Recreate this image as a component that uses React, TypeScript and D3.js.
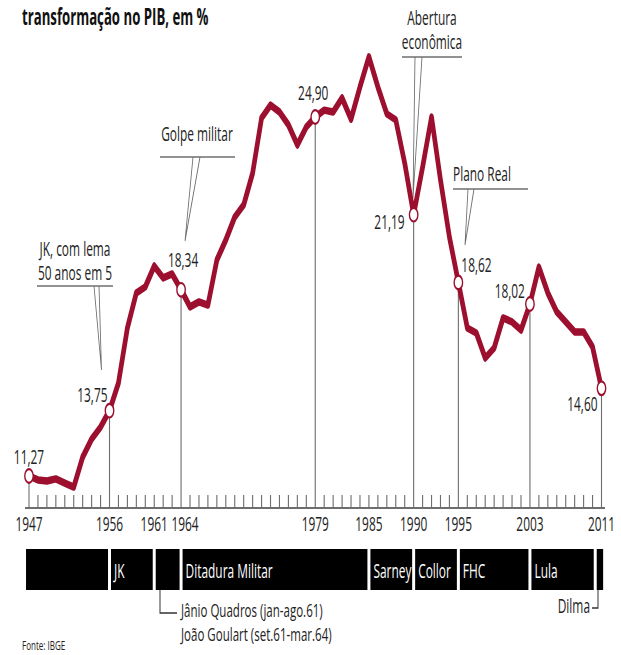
import React from 'react';
import * as d3 from 'd3';

// ---------------- data ----------------
const years = d3.range(1947, 2012);
const shareValues = [
  11.27, 11.12, 11.08, 11.16, 11.0, 10.85, 11.99, 12.67, 13.13, 13.75,
  14.8, 16.89, 18.22, 18.45, 19.24, 18.79, 18.94, 18.34, 17.69, 17.88,
  17.76, 19.47, 20.23, 21.1, 21.56, 22.77, 24.86, 25.35, 25.09, 24.6,
  23.84, 24.52, 24.9, 25.16, 25.09, 25.62, 24.82, 26.04, 27.18, 26.04,
  25.02, 24.79, 23.15, 21.19, 23.0, 24.9, 22.51, 20.34, 18.62, 16.89,
  16.7, 15.75, 16.13, 17.27, 17.12, 16.81, 17.8, 19.2, 18.22, 17.5,
  17.12, 16.74, 16.74, 16.17, 14.6,
];
const markedYears = [1947, 1956, 1964, 1979, 1990, 1995, 2003, 2011];
const markedLabels = ['11,27', '13,75', '18,34', '24,90', '21,19', '18,62', '18,02', '14,60'];
const tickLabelYears = [1947, 1956, 1961, 1964, 1979, 1985, 1990, 1995, 2003, 2011];

const periodNames = ['', 'JK', '', 'Ditadura Militar', 'Sarney', 'Collor', 'FHC', 'Lula', ''];
const periodStarts = [1946.5, 1956, 1961, 1964, 1985, 1990, 1995, 2003, 2010.3];
const periodEnds = [1956, 1961, 1964, 1985, 1990, 1995, 2003, 2010.3, 2011.35];

const titleText = 'transformação no PIB, em %';
const noteJK = ['JK, com lema', '50 anos em 5'];
const noteGolpe = ['Golpe militar'];
const noteAbertura = ['Abertura', 'econômica'];
const notePlano = ['Plano Real'];
const janioLines = ['Jânio Quadros (jan-ago.61)', 'João Goulart (set.61-mar.64)'];
const dilmaText = 'Dilma';
const sourceText = 'Fonte: IBGE';

// ---------------- layout / style ----------------
const S = 0.62; // horizontal squeeze of the whole picture
const FONT = "'Open Sans', 'Noto Sans', Roboto, sans-serif";
const RED = '#9c0f2e';
const GRAY = '#6e6e6e';
const FS = 19.2;

const labelPlace: Record<number, { dx: number; dy: number; anchor: string }> = {
  1947: { dx: 0, dy: -12, anchor: 'middle' },
  1956: { dx: -2, dy: -9, anchor: 'end' },
  1964: { dx: 2, dy: -23, anchor: 'middle' },
  1979: { dx: -2, dy: -17, anchor: 'middle' },
  1990: { dx: -9, dy: 14, anchor: 'end' },
  1995: { dx: 3, dy: -10, anchor: 'start' },
  2003: { dx: -5, dy: -6, anchor: 'end' },
  2011: { dx: -4, dy: 23, anchor: 'end' },
};

const sx = (v: number) => v / S;

function Note({ lines, cx, baseline, anchor, ul, wedge }: any) {
  return (
    <g>
      {lines.map((t: string, i: number) => (
        <text key={i} x={sx(cx)} y={baseline + i * 24} textAnchor={anchor} fontSize={FS} fill="#222" fontFamily={FONT}>
          {t}
        </text>
      ))}
      <line x1={sx(ul[0])} x2={sx(ul[1])} y1={ul[2]} y2={ul[2]} stroke={GRAY} strokeWidth={1.6} />
      <path
        d={`M${sx(wedge[0])},${ul[2]} L${sx(wedge[2])},${wedge[3]} L${sx(wedge[1])},${ul[2]}`}
        fill="none"
        stroke={GRAY}
        strokeWidth={1.4}
      />
    </g>
  );
}

export default function App() {
  const x = d3.scaleLinear().domain([1947, 2011]).range([sx(29), sx(601.5)]);
  const y = d3.scaleLinear().domain([11.27, 24.9]).range([476, 117]);
  const axisY = 508;

  const line = d3
    .line<number>()
    .x((_, i) => x(years[i]))
    .y((d) => y(d));

  const valueAt = (yr: number) => shareValues[years.indexOf(yr)];

  return (
    <svg width={621} height={655} style={{ position: 'absolute', left: 0, top: 0, background: '#fff' }}>
      <rect width={621} height={655} fill="#fff" />
      {/* title */}
      <text
        transform="translate(22,25) scale(0.55,1)"
        fontSize={24}
        fontWeight={700}
        fill="#111"
        fontFamily={FONT}
      >
        {titleText}
      </text>
      <g transform={`scale(${S},1)`}>
        {/* axis */}
        <line x1={sx(25)} x2={sx(605)} y1={axisY} y2={axisY} stroke={GRAY} strokeWidth={1.8} />
        {years
          .filter((yr) => !markedYears.includes(yr))
          .map((yr) => (
            <line key={yr} x1={x(yr)} x2={x(yr)} y1={axisY - 13} y2={axisY} stroke={GRAY} strokeWidth={1.8} />
          ))}
        {tickLabelYears.map((yr) => (
          <text
            key={yr}
            x={x(yr) + (yr === 1964 ? sx(4) : 0)}
            y={531}
            textAnchor="middle"
            fontSize={FS}
            fill="#222"
            fontFamily={FONT}
          >
            {yr}
          </text>
        ))}

        {/* drop lines */}
        {markedYears.map((yr) => (
          <line key={yr} x1={x(yr)} x2={x(yr)} y1={y(valueAt(yr))} y2={axisY} stroke={GRAY} strokeWidth={1.8} />
        ))}

        {/* annotations */}
        <Note lines={noteJK} cx={75} baseline={256} anchor="middle" ul={[37, 113, 286]} wedge={[94, 99, 101.5, 370]} />
        <Note lines={noteGolpe} cx={197} baseline={141} anchor="middle" ul={[160, 235, 157]} wedge={[193, 200, 185, 241]} />
        <Note lines={noteAbertura} cx={432} baseline={25} anchor="middle" ul={[402, 462, 57]} wedge={[415, 422, 413, 198]} />
        <Note lines={notePlano} cx={453} baseline={181} anchor="start" ul={[453, 528, 189]} wedge={[468, 474, 465, 245]} />

        {/* series line */}
        <path d={line(shareValues) || ''} fill="none" stroke={RED} strokeWidth={7.5} strokeLinejoin="round" strokeLinecap="round" />

        {/* marked points */}
        {markedYears.map((yr, i) => {
          const p = labelPlace[yr];
          const cx = x(yr);
          const cy = y(valueAt(yr));
          return (
            <g key={yr}>
              <circle cx={cx} cy={cy} r={6.8} fill="#fff" stroke={RED} strokeWidth={2.2} />
              <text x={cx + sx(p.dx)} y={cy + p.dy} textAnchor={p.anchor} fontSize={FS} fill="#222" fontFamily={FONT}>
                {markedLabels[i]}
              </text>
            </g>
          );
        })}

        {/* timeline */}
        {periodNames.map((name, i) => {
          const x0 = x(periodStarts[i]) + sx(1.5);
          const x1 = x(periodEnds[i]) - sx(1.5);
          return (
            <g key={i}>
              <rect x={x0} y={549} width={x1 - x0} height={41} fill="#000" />
              {name && (
                <text x={x0 + sx(3)} y={578} fontSize={FS} fill="#fff" fontFamily={FONT}>
                  {name}
                </text>
              )}
            </g>
          );
        })}

        {/* Jânio / Goulart bracket */}
        <path d={`M${sx(160)},590 L${sx(160)},613 L${sx(177)},613`} fill="none" stroke="#333" strokeWidth={1.6} />
        {janioLines.map((t, i) => (
          <text key={i} x={sx(181)} y={617 + i * 24} fontSize={18.6} fill="#222" fontFamily={FONT}>
            {t}
          </text>
        ))}

        {/* Dilma bracket */}
        <path d={`M${sx(592)},608 L${sx(598)},608 L${sx(598)},590`} fill="none" stroke="#333" strokeWidth={1.6} />
        <text x={sx(590)} y={613} textAnchor="end" fontSize={FS} fill="#222" fontFamily={FONT}>
          {dilmaText}
        </text>

        {/* source */}
        <text x={sx(22)} y={650} fontSize={13} fill="#222" fontFamily={FONT}>
          {sourceText}
        </text>
      </g>
    </svg>
  );
}
